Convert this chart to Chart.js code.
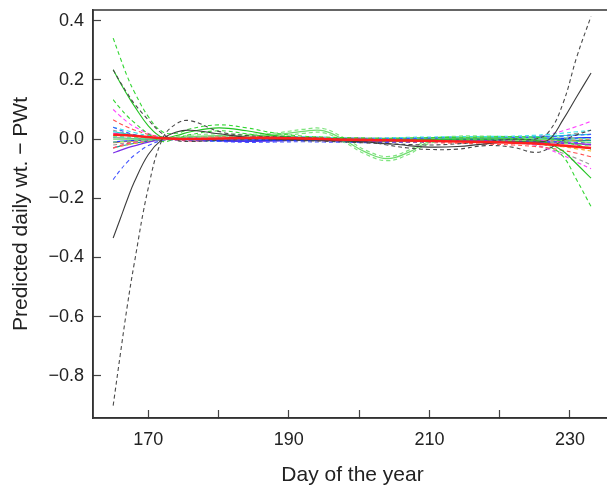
<!DOCTYPE html>
<html>
<head>
<meta charset="utf-8">
<script src="https://cdn.jsdelivr.net/npm/chart.js@4.4.1/dist/chart.umd.min.js"></script>
<style>
  html, body { margin: 0; padding: 0; background: #fff; overflow: hidden; }
  #wrap { width: 614px; height: 488px; }
</style>
</head>
<body>
<div id="wrap"><canvas id="chart" width="614" height="488"></canvas></div>
<script>
const days = [165,166,167,168,170,172,174,176,180,184,188,192,195,198,201,204,207,210,214,218,222,225,227,229,231,233];

const xTicks = [170,180,190,200,210,220,230];
const xLabels = [170,190,210,230];
const yTicks = [-0.8,-0.6,-0.4,-0.2,0.0,0.2,0.4];

// fitted curve + the two dashed bounds, one group per colour
const blackFit = [-0.334,-0.27,-0.205,-0.145,-0.052,0.0,0.024,0.03,0.018,0.006,0.0,-0.002,-0.004,-0.006,-0.01,-0.015,-0.022,-0.027,-0.025,-0.016,-0.01,-0.01,-0.002,0.065,0.145,0.223];
const blackHi = [0.234,0.193,0.155,0.12,0.065,0.018,-0.004,-0.008,-0.004,-0.002,-0.003,-0.005,-0.007,-0.01,-0.013,-0.016,-0.018,-0.02,-0.016,-0.008,0.0,0.0,0.025,0.12,0.28,0.415];
const blackLo = [-0.9,-0.73,-0.565,-0.42,-0.165,0.0,0.052,0.062,0.026,0.012,0.008,0.005,0.002,0.0,-0.008,-0.02,-0.03,-0.035,-0.034,-0.022,-0.028,-0.045,-0.032,-0.005,0.015,0.03];

const greenFit = [0.234,0.19,0.15,0.112,0.045,0.006,0.012,0.025,0.038,0.028,0.012,0.005,0.002,0.0,-0.001,-0.002,-0.002,-0.001,0.0,0.0,0.0,-0.004,-0.015,-0.04,-0.085,-0.132];
const greenHi = [0.341,0.275,0.212,0.16,0.076,0.025,0.02,0.035,0.048,0.038,0.02,0.01,0.007,0.005,0.004,0.003,0.004,0.005,0.006,0.007,0.008,0.006,0.002,-0.008,-0.02,-0.035];
const greenLo = [0.133,0.104,0.078,0.056,0.018,-0.008,0.002,0.015,0.028,0.018,0.005,0.0,-0.003,-0.005,-0.006,-0.007,-0.008,-0.007,-0.006,-0.007,-0.008,-0.012,-0.025,-0.058,-0.14,-0.228];

const lgFit = [0.0,0.0,0.0,0.0,0.0,0.0,0.004,0.008,0.012,0.01,0.014,0.026,0.028,-0.005,-0.045,-0.066,-0.045,-0.008,0.004,0.004,0.002,0.0,-0.002,-0.005,-0.008,-0.012];
const lgHi = [0.01,0.008,0.007,0.006,0.004,0.002,0.008,0.013,0.018,0.016,0.02,0.033,0.035,0.002,-0.038,-0.059,-0.038,-0.001,0.01,0.01,0.008,0.006,0.005,0.004,0.002,0.0];
const lgLo = [-0.01,-0.008,-0.007,-0.006,-0.004,-0.002,0.0,0.003,0.006,0.004,0.008,0.019,0.021,-0.012,-0.052,-0.073,-0.052,-0.015,-0.002,-0.002,-0.004,-0.006,-0.009,-0.014,-0.018,-0.024];

const redFit = [0.015,0.014,0.013,0.011,0.007,0.003,0.001,0.0,0.002,0.004,0.004,0.002,0.0,-0.002,-0.003,-0.004,-0.005,-0.006,-0.008,-0.01,-0.012,-0.015,-0.018,-0.022,-0.026,-0.03];
const redHi = [0.065,0.052,0.041,0.031,0.016,0.007,0.005,0.006,0.008,0.009,0.008,0.006,0.005,0.003,0.002,0.001,0.0,-0.001,-0.002,-0.003,-0.004,-0.005,-0.006,-0.006,-0.004,0.0];
const redLo = [-0.03,-0.022,-0.015,-0.01,-0.003,-0.001,-0.003,-0.006,-0.005,-0.002,-0.001,-0.003,-0.005,-0.007,-0.009,-0.01,-0.011,-0.012,-0.014,-0.017,-0.02,-0.025,-0.03,-0.038,-0.048,-0.06];

const blueFit = [-0.01,-0.008,-0.006,-0.004,-0.002,0.0,0.001,0.0,-0.004,-0.006,-0.005,-0.004,-0.004,-0.005,-0.006,-0.005,-0.004,-0.003,-0.002,-0.002,-0.002,-0.002,0.0,0.002,0.004,0.005];
const blueHi = [0.04,0.03,0.022,0.015,0.007,0.003,0.004,0.004,0.0,-0.001,0.0,0.001,0.002,0.001,0.0,0.001,0.002,0.003,0.004,0.004,0.005,0.006,0.008,0.01,0.013,0.016];
const blueLo = [-0.137,-0.105,-0.078,-0.055,-0.022,-0.005,-0.002,-0.004,-0.008,-0.011,-0.01,-0.009,-0.01,-0.011,-0.012,-0.011,-0.01,-0.009,-0.008,-0.008,-0.009,-0.01,-0.008,-0.009,-0.011,-0.012];

const purpleFit = [-0.047,-0.038,-0.03,-0.023,-0.01,-0.002,0.002,0.0,-0.006,-0.008,-0.006,-0.004,-0.005,-0.007,-0.008,-0.008,-0.007,-0.006,-0.005,-0.006,-0.008,-0.01,-0.012,-0.014,-0.016,-0.018];

const cyanFit = [0.025,0.021,0.017,0.013,0.007,0.002,0.0,-0.002,-0.003,0.0,0.003,0.004,0.002,0.0,-0.001,0.0,0.002,0.003,0.004,0.005,0.006,0.008,0.01,0.012,0.014,0.016];
const cyanHi = [0.04,0.034,0.028,0.022,0.012,0.005,0.002,0.0,0.002,0.005,0.007,0.008,0.006,0.004,0.003,0.004,0.006,0.007,0.008,0.009,0.01,0.013,0.016,0.02,0.025,0.03];
const cyanLo = [0.008,0.006,0.004,0.003,0.001,-0.001,-0.003,-0.005,-0.008,-0.005,-0.002,0.0,-0.002,-0.004,-0.006,-0.005,-0.003,-0.001,0.0,0.001,0.002,0.003,0.004,0.003,0.002,0.0];

const magFit = [0.02,0.017,0.014,0.011,0.006,0.002,-0.001,-0.003,-0.004,-0.002,0.0,0.001,0.0,-0.001,-0.002,-0.002,-0.001,0.0,0.001,0.001,0.0,-0.003,-0.006,-0.01,-0.015,-0.02];
const magHi = [0.1,0.078,0.058,0.042,0.019,0.006,0.002,0.0,0.001,0.003,0.005,0.006,0.005,0.004,0.003,0.003,0.004,0.005,0.006,0.007,0.008,0.01,0.016,0.028,0.043,0.06];
const magLo = [-0.03,-0.022,-0.016,-0.011,-0.005,-0.002,-0.004,-0.006,-0.008,-0.007,-0.005,-0.004,-0.005,-0.006,-0.007,-0.007,-0.006,-0.005,-0.004,-0.005,-0.01,-0.02,-0.035,-0.055,-0.078,-0.1];

const orangeFit = [-0.012,-0.01,-0.008,-0.006,-0.003,-0.001,0.0,0.001,0.002,0.001,0.0,-0.001,-0.002,-0.003,-0.004,-0.004,-0.003,-0.003,-0.004,-0.005,-0.006,-0.008,-0.01,-0.013,-0.016,-0.02];
const orangeLo = [-0.03,-0.025,-0.02,-0.015,-0.008,-0.003,-0.002,-0.002,-0.002,-0.003,-0.005,-0.006,-0.007,-0.008,-0.009,-0.009,-0.008,-0.008,-0.009,-0.01,-0.012,-0.015,-0.02,-0.026,-0.033,-0.04];

const grayFit = [0.005,0.004,0.003,0.002,0.001,0.0,0.0,0.001,0.003,0.005,0.004,0.002,0.0,-0.002,-0.003,-0.003,-0.002,-0.001,0.0,0.0,-0.002,-0.005,-0.008,-0.012,-0.016,-0.02];
const grayHi = [0.03,0.024,0.019,0.014,0.007,0.003,0.004,0.006,0.009,0.012,0.011,0.008,0.006,0.004,0.003,0.003,0.004,0.005,0.006,0.007,0.006,0.005,0.006,0.012,0.02,0.03];
const grayLo = [-0.02,-0.016,-0.012,-0.009,-0.005,-0.003,-0.004,-0.004,-0.003,-0.002,-0.003,-0.004,-0.006,-0.008,-0.009,-0.009,-0.008,-0.007,-0.006,-0.007,-0.012,-0.02,-0.032,-0.048,-0.066,-0.087];

const tealFit = [-0.03,-0.024,-0.019,-0.014,-0.007,-0.002,0.001,0.002,0.0,-0.002,-0.003,-0.002,-0.001,0.0,0.001,0.001,0.0,-0.001,-0.002,-0.002,-0.001,0.0,0.0,-0.002,-0.004,-0.005];

// drawing order: first in list ends up on top
const DASH = [4, 3];
const lines = [
  { y: redFit, color: '#ff1f1f', width: 2.5 },
  { y: blackFit, color: '#3c3c3c', width: 1.1 },
  { y: blackHi, color: '#4a4a4a', width: 1.1, dash: DASH },
  { y: blackLo, color: '#4a4a4a', width: 1.1, dash: DASH },
  { y: greenFit, color: '#22c322', width: 1.1 },
  { y: greenHi, color: '#33d633', width: 1.1, dash: DASH },
  { y: greenLo, color: '#33d633', width: 1.1, dash: DASH },
  { y: lgFit, color: '#6fdc6f', width: 1.2 },
  { y: lgHi, color: '#7ee47e', width: 1.2, dash: DASH },
  { y: lgLo, color: '#7ee47e', width: 1.2, dash: DASH },
  { y: blueFit, color: '#2233ff', width: 1.3 },
  { y: blueHi, color: '#4455ff', width: 1.1, dash: DASH },
  { y: blueLo, color: '#4455ff', width: 1.1, dash: DASH },
  { y: purpleFit, color: '#7a2ee8', width: 1.3 },
  { y: redHi, color: '#ff5050', width: 1.1, dash: DASH },
  { y: redLo, color: '#ff5050', width: 1.1, dash: DASH },
  { y: cyanFit, color: '#22d8d8', width: 1.2 },
  { y: cyanHi, color: '#33e6e6', width: 1.1, dash: DASH },
  { y: cyanLo, color: '#33e6e6', width: 1.1, dash: DASH },
  { y: magFit, color: '#f02cf0', width: 1.1 },
  { y: magHi, color: '#ff44ff', width: 1.1, dash: DASH },
  { y: magLo, color: '#ff44ff', width: 1.1, dash: DASH },
  { y: orangeFit, color: '#f0a000', width: 1.1 },
  { y: orangeLo, color: '#f5b020', width: 1.1, dash: DASH },
  { y: grayFit, color: '#8c8c8c', width: 1.1 },
  { y: grayHi, color: '#999999', width: 1.1, dash: DASH },
  { y: grayLo, color: '#999999', width: 1.1, dash: DASH },
  { y: tealFit, color: '#119c8c', width: 1.2 }
];

const datasets = lines.map(l => ({
  data: days.map((d, i) => ({ x: d, y: l.y[i] })),
  borderColor: l.color,
  borderWidth: l.width,
  borderDash: l.dash || [],
  pointRadius: 0,
  fill: false,
  tension: 0.4
}));

const textColor = '#222';
const tickFont = { family: 'Liberation Sans, Arial, sans-serif', size: 18 };
const titleFont = { family: 'Liberation Sans, Arial, sans-serif', size: 21 };

// box round the plot area
const frame = {
  id: 'frame',
  afterDraw(chart) {
    const { ctx, chartArea: a } = chart;
    ctx.save();
    ctx.strokeStyle = '#333';
    ctx.lineWidth = 1.5;
    ctx.strokeRect(a.left, a.top, a.right - a.left, a.bottom - a.top);
    ctx.restore();
  }
};

new Chart(document.getElementById('chart'), {
  type: 'line',
  data: { datasets },
  plugins: [frame],
  options: {
    responsive: false,
    animation: false,
    layout: { padding: { top: 10, right: 2, left: 0, bottom: 0 } },
    plugins: { legend: { display: false }, tooltip: { enabled: false } },
    scales: {
      x: {
        type: 'linear',
        min: 162.13,
        max: 235.98,
        afterFit: s => { s.height = 70; s.paddingLeft = 0; s.paddingRight = 0; },
        afterBuildTicks: s => { s.ticks = xTicks.map(v => ({ value: v })); },
        ticks: {
          autoSkip: false, maxRotation: 0, padding: 19,
          color: textColor, font: tickFont,
          callback: v => xLabels.includes(v) ? String(v) : ''
        },
        grid: { display: true, drawOnChartArea: false, drawTicks: true, tickLength: -8, tickColor: '#444', tickWidth: 1.2 },
        border: { display: true, color: '#333', width: 1.5 },
        title: { display: true, text: 'Day of the year', color: textColor, font: titleFont, padding: { top: 0, bottom: 0 } }
      },
      y: {
        min: -0.942,
        max: 0.436,
        afterFit: s => { s.width = 93; s.paddingTop = 0; s.paddingBottom = 0; },
        afterBuildTicks: s => { s.ticks = yTicks.map(v => ({ value: v })); },
        ticks: {
          padding: 17, color: textColor, font: tickFont,
          callback: v => (v < 0 ? '\u2212' : '') + Math.abs(v).toFixed(1)
        },
        grid: { display: true, drawOnChartArea: false, drawTicks: true, tickLength: -8, tickColor: '#444', tickWidth: 1.2 },
        border: { display: true, color: '#333', width: 1.5 },
        title: { display: true, text: 'Predicted daily wt. \u2212 PWt', color: textColor, font: titleFont, padding: { top: 9, bottom: 0 } }
      }
    }
  }
});
</script>
</body>
</html>
